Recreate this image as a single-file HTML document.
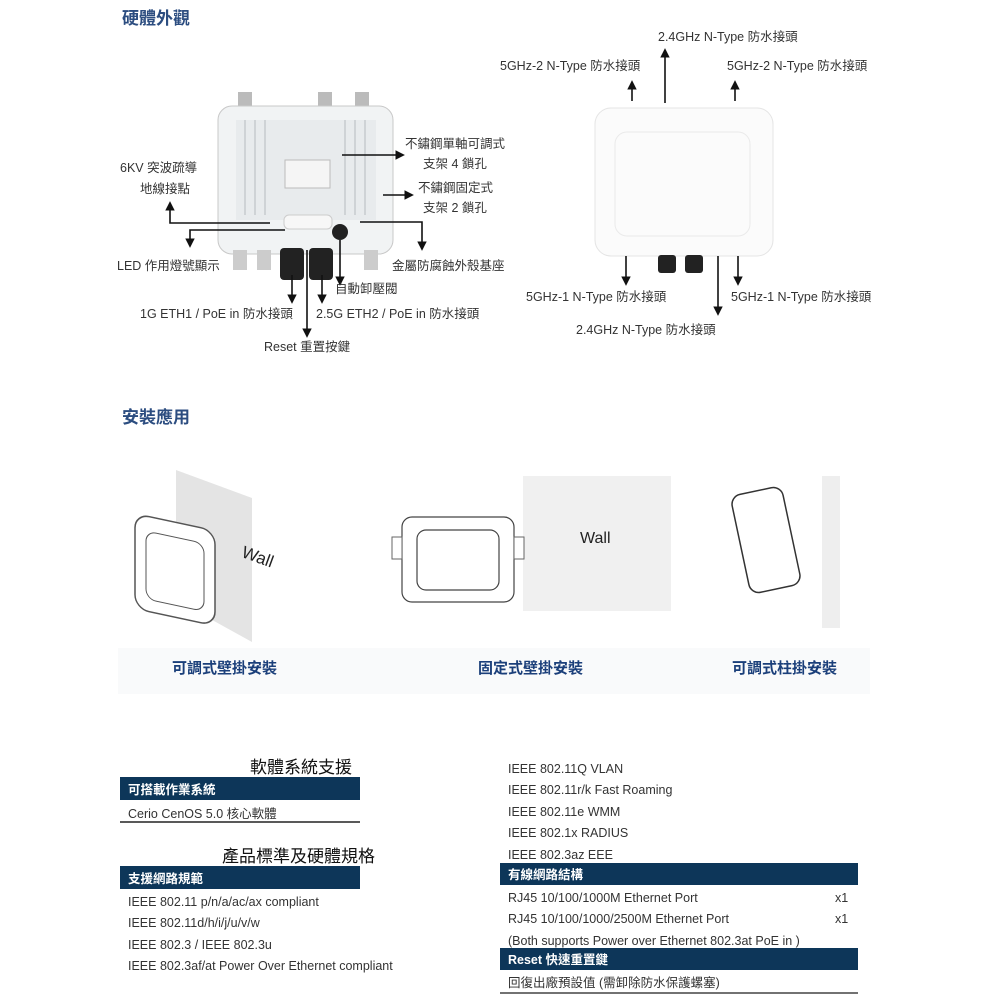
<!DOCTYPE html>
<html><head><meta charset="utf-8"><style>
body{margin:0;background:#fff;width:1000px;height:1000px;overflow:hidden}
svg text{font-family:"Liberation Sans","Noto Sans CJK TC",sans-serif;fill:#333;font-size:12.5px}
.t{font-size:17px;font-weight:bold;fill:#2c4d80}
.h{font-size:17px;fill:#111}
.bw{fill:#fff;font-weight:bold;font-size:12.5px}
.c{font-size:15px;font-weight:bold;fill:#1b3f7a}
</style></head><body>
<svg width="1000" height="1000" viewBox="0 0 1000 1000" xmlns="http://www.w3.org/2000/svg">
<defs>
<marker id="a" viewBox="0 0 10 10" refX="8" refY="5" markerWidth="6" markerHeight="6" orient="auto"><path d="M0,0L10,5L0,10z" fill="#111"/></marker>
</defs>
<text x="122" y="24" class="t">硬體外觀</text>
<text x="122" y="423" class="t">安裝應用</text>

<!-- left device -->
<g>
<rect x="238" y="92" width="14" height="16" fill="#bbb"/><rect x="318" y="92" width="14" height="16" fill="#bbb"/><rect x="355" y="92" width="14" height="16" fill="#bbb"/>
<rect x="218" y="106" width="175" height="148" rx="14" fill="#f1f3f4" stroke="#c8c8c8"/>
<rect x="236" y="120" width="140" height="100" fill="#e8ebed"/>
<g stroke="#cfd3d6" stroke-width="2">
<line x1="245" y1="120" x2="245" y2="215"/><line x1="255" y1="120" x2="255" y2="215"/><line x1="265" y1="120" x2="265" y2="215"/><line x1="345" y1="120" x2="345" y2="215"/><line x1="355" y1="120" x2="355" y2="215"/><line x1="365" y1="120" x2="365" y2="215"/>
</g>
<rect x="285" y="160" width="45" height="28" fill="#f5f5f5" stroke="#bbb"/>
<rect x="284" y="215" width="48" height="14" rx="5" fill="#f7f7f7" stroke="#ccc"/>
<circle cx="340" cy="232" r="8" fill="#222"/>
<rect x="233" y="250" width="14" height="20" fill="#ccc"/><rect x="257" y="250" width="14" height="20" fill="#ccc"/><rect x="364" y="250" width="14" height="20" fill="#ccc"/>
<rect x="280" y="248" width="24" height="32" rx="4" fill="#222"/><rect x="309" y="248" width="24" height="32" rx="4" fill="#222"/>
</g>
<g stroke="#111" stroke-width="1.6" fill="none">
<path d="M342,155H403" marker-end="url(#a)"/>
<path d="M383,195H412" marker-end="url(#a)"/>
<path d="M270,223H170V203" marker-end="url(#a)"/>
<path d="M285,230H190V246" marker-end="url(#a)"/>
<path d="M360,222H422V249" marker-end="url(#a)"/>
<path d="M292,275V302" marker-end="url(#a)"/>
<path d="M322,275V302" marker-end="url(#a)"/>
<path d="M307,250V336" marker-end="url(#a)"/>
<path d="M340,240V284" marker-end="url(#a)"/>
</g>
<text x="120" y="172">6KV 突波疏導</text><text x="140" y="193">地線接點</text>
<text x="405" y="148">不鏽鋼單軸可調式</text><text x="423" y="168">支架 4 鎖孔</text>
<text x="418" y="192">不鏽鋼固定式</text><text x="423" y="212">支架 2 鎖孔</text>
<text x="117" y="270">LED 作用燈號顯示</text><text x="392" y="270">金屬防腐蝕外殼基座</text>
<text x="335" y="293">自動卸壓閥</text>
<text x="140" y="318">1G ETH1 / PoE in 防水接頭</text><text x="316" y="318">2.5G ETH2 / PoE in 防水接頭</text>
<text x="264" y="351">Reset 重置按鍵</text>

<!-- right device -->
<rect x="595" y="108" width="178" height="148" rx="16" fill="#fbfbfb" stroke="#e4e4e4"/>
<rect x="615" y="132" width="135" height="104" rx="12" fill="none" stroke="#eaeaea"/>
<rect x="658" y="255" width="18" height="18" rx="3" fill="#222"/><rect x="685" y="255" width="18" height="18" rx="3" fill="#222"/>
<g stroke="#111" stroke-width="1.6" fill="none">
<path d="M632,101V82" marker-end="url(#a)"/>
<path d="M665,103V50" marker-end="url(#a)"/>
<path d="M735,101V82" marker-end="url(#a)"/>
<path d="M626,256V284" marker-end="url(#a)"/>
<path d="M718,256V314" marker-end="url(#a)"/>
<path d="M738,256V284" marker-end="url(#a)"/>
</g>
<text x="658" y="41">2.4GHz N-Type 防水接頭</text>
<text x="500" y="70">5GHz-2 N-Type 防水接頭</text><text x="727" y="70">5GHz-2 N-Type 防水接頭</text>
<text x="526" y="301">5GHz-1 N-Type 防水接頭</text><text x="731" y="301">5GHz-1 N-Type 防水接頭</text>
<text x="576" y="334">2.4GHz N-Type 防水接頭</text>

<!-- install -->
<rect x="118" y="648" width="752" height="46" fill="#f9fafb"/>
<path d="M176,470L252,498L252,642L176,600Z" fill="#e4e4e4"/>
<rect x="135" y="515" width="80" height="95" rx="14" fill="#fff" stroke="#555" stroke-width="1.5" transform="skewY(12) translate(0,-30)"/>
<rect x="146" y="530" width="58" height="68" rx="10" fill="none" stroke="#555" transform="skewY(12) translate(0,-30)"/>
<text x="240" y="560" transform="rotate(20 250 560)" style="font-size:17px;fill:#222">Wall</text>
<rect x="523" y="476" width="148" height="135" fill="#f0f0f0"/>
<rect x="402" y="517" width="112" height="85" rx="10" fill="#fff" stroke="#444" stroke-width="1.2"/>
<rect x="417" y="530" width="82" height="60" rx="9" fill="#fff" stroke="#444" stroke-width="1.2"/>
<rect x="392" y="537" width="10" height="22" fill="#fff" stroke="#666"/><rect x="514" y="537" width="10" height="22" fill="#fff" stroke="#666"/>
<text x="580" y="543" style="font-size:16px;fill:#222">Wall</text>
<rect x="822" y="476" width="18" height="152" fill="#eee"/>
<rect x="740" y="490" width="52" height="100" rx="10" fill="#fff" stroke="#333" stroke-width="1.5" transform="rotate(-12 766 540)"/>
<text x="172" y="673" class="c">可調式壁掛安裝</text>
<text x="478" y="673" class="c">固定式壁掛安裝</text>
<text x="732" y="673" class="c">可調式柱掛安裝</text>

<!-- specs left -->
<text x="250" y="773" class="h">軟體系統支援</text>
<rect x="120" y="777" width="240" height="23" fill="#0d3659"/>
<text x="128" y="794" class="bw">可搭載作業系統</text>
<text x="128" y="818">Cerio CenOS 5.0 核心軟體</text>
<line x1="120" y1="822" x2="360" y2="822" stroke="#222" stroke-width="1.5"/>
<text x="222" y="862" class="h">產品標準及硬體規格</text>
<rect x="120" y="866" width="240" height="23" fill="#0d3659"/>
<text x="128" y="883" class="bw">支援網路規範</text>
<text x="128" y="906">IEEE 802.11 p/n/a/ac/ax compliant</text>
<text x="128" y="927">IEEE 802.11d/h/i/j/u/v/w</text>
<text x="128" y="949">IEEE 802.3 / IEEE 802.3u</text>
<text x="128" y="970">IEEE 802.3af/at Power Over Ethernet compliant</text>
<!-- specs right -->
<text x="508" y="773">IEEE 802.11Q VLAN</text>
<text x="508" y="794">IEEE 802.11r/k Fast Roaming</text>
<text x="508" y="816">IEEE 802.11e WMM</text>
<text x="508" y="837">IEEE 802.1x RADIUS</text>
<text x="508" y="859">IEEE 802.3az EEE</text>
<rect x="500" y="863" width="358" height="22" fill="#0d3659"/>
<text x="508" y="879" class="bw">有線網路結構</text>
<text x="508" y="902">RJ45 10/100/1000M Ethernet Port</text><text x="835" y="902">x1</text>
<text x="508" y="923">RJ45 10/100/1000/2500M Ethernet Port</text><text x="835" y="923">x1</text>
<text x="508" y="945">(Both supports Power over Ethernet 802.3at PoE in )</text>
<rect x="500" y="948" width="358" height="22" fill="#0d3659"/>
<text x="508" y="964" class="bw">Reset 快速重置鍵</text>
<text x="508" y="987">回復出廠預設值 (需卸除防水保護螺塞)</text>
<line x1="500" y1="993" x2="858" y2="993" stroke="#444" stroke-width="1.5"/>
</svg>
</body></html>
